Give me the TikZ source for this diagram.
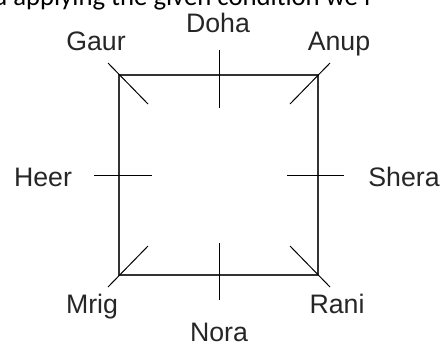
\documentclass[tikz,border=0pt]{standalone}
\usepackage{fontspec}
\setmainfont{Liberation Sans}
\newfontfamily\captionfont{Carlito}
\usetikzlibrary{calc}
\tikzset{
    tableEdge/.style={line width=0.9pt, draw=black!80},
    seatTick/.style={line width=0.7pt, draw=black},
    nameLabel/.style={anchor=base, inner sep=0pt, text=black!85, font=\fontsize{19}{19}\selectfont}
}

\begin{document}
\begin{tikzpicture}[x=0.025cm, y=-0.025cm]
    \useasboundingbox (0,0) rectangle (445,345);
    \clip (0,0) rectangle (445,345);
    % --- caption line, cut off at the top ---
    \node[anchor=base west, inner sep=0pt, text=black, font=\captionfont\fontsize{19}{19}\selectfont] (caption) at (-7,5) {d applying the given condition we f};
    % --- square table ---
    \coordinate (NW) at (119,75); \coordinate (NE) at (318,75);
    \coordinate (SE) at (318,275); \coordinate (SW) at (119,275);
    \coordinate (N) at (219,75); \coordinate (S) at (219,275);
    \coordinate (W) at (119,175); \coordinate (E) at (318,175);
    \draw[tableEdge] (NW)--(NE)--(SE)--(SW)--cycle;
    % --- seats: corners ---
    \draw[seatTick] ($(NW)+(-11,-12)$)--($(NW)+(29,29)$);
    \draw[seatTick] ($(NE)+(12,-12)$)--($(NE)+(-28,29)$);
    \draw[seatTick] ($(SE)+(12,12)$)--($(SE)+(-28,-29)$);
    \draw[seatTick] ($(SW)+(-11,12)$)--($(SW)+(29,-29)$);
    % --- seats: sides ---
    \draw[seatTick] ($(N)+(0,-25)$)--($(N)+(0,33)$);
    \draw[seatTick] ($(S)+(0,25)$)--($(S)+(0,-32)$);
    \draw[seatTick] ($(W)+(-25,0)$)--($(W)+(33,0)$);
    \draw[seatTick] ($(E)+(26,0)$)--($(E)+(-31,0)$);
    % --- names ---
    \node[nameLabel] (gaur) at (96,50) {Gaur};
    \node[nameLabel] (doha) at (218,32) {Doha};
    \node[nameLabel] (anup) at (339,50) {Anup};
    \node[nameLabel] (heer) at (43,186) {Heer};
    \node[nameLabel] (shera) at (404,186) {Shera};
    \node[nameLabel] (mrig) at (92,313) {Mrig};
    \node[nameLabel] (nora) at (219,341) {Nora};
    \node[nameLabel] (rani) at (337,313) {Rani};
\end{tikzpicture}
\end{document}
